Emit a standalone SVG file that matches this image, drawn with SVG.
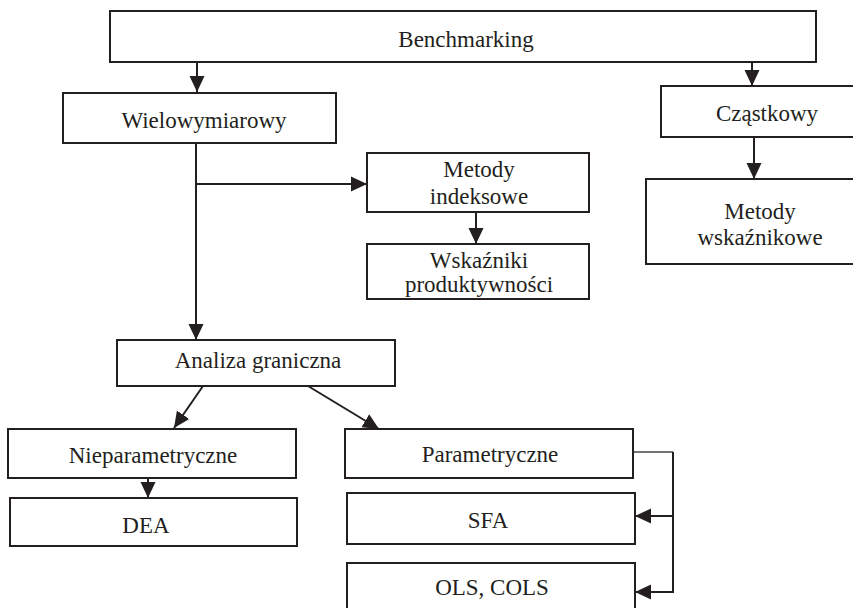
<svg xmlns="http://www.w3.org/2000/svg" width="853" height="608" viewBox="0 0 853 608">
<style>
.box{fill:#fff;stroke:#231f20;stroke-width:2}
.t{font-family:'Liberation Serif','Times New Roman',serif;font-size:23px;fill:#231f20;text-anchor:middle}
.c{fill:none;stroke:#231f20;stroke-width:2}
.thin{fill:none;stroke:#444;stroke-width:1.3}
</style>
<defs>
<marker id="ah" viewBox="0 0 16 16" refX="16" refY="8" markerWidth="16" markerHeight="16" orient="auto" markerUnits="userSpaceOnUse">
<path d="M0,0.5 L16,8 L0,15.5 z" fill="#231f20"/>
</marker>
</defs>
<rect width="853" height="608" fill="#fff"/>
<g id="connectors">
<line class="c" x1="197" y1="62" x2="197" y2="92" marker-end="url(#ah)"/>
<line class="c" x1="752" y1="62" x2="752" y2="86" marker-end="url(#ah)"/>
<line class="c" x1="754" y1="137" x2="754" y2="179" marker-end="url(#ah)"/>
<line class="c" x1="196" y1="143" x2="196" y2="340" marker-end="url(#ah)"/>
<line class="c" x1="196" y1="184" x2="367" y2="184" marker-end="url(#ah)"/>
<line class="c" x1="476" y1="212" x2="476" y2="244" marker-end="url(#ah)"/>
<line class="c" x1="203" y1="386" x2="174" y2="428" marker-end="url(#ah)"/>
<line class="c" x1="308" y1="386" x2="379" y2="429" marker-end="url(#ah)"/>
<line class="c" x1="148" y1="478" x2="148" y2="498" marker-end="url(#ah)"/>
<polyline class="thin" points="633,452 673,452"/>
<polyline class="c" points="673,452 673,592"/>
<line class="c" x1="673" y1="516" x2="635" y2="516" marker-end="url(#ah)"/>
<line class="c" x1="674" y1="592" x2="635" y2="592" marker-end="url(#ah)"/>
</g>
<g id="benchmarking"><rect class="box" x="110" y="11" width="706" height="51"/><text class="t" x="466" y="47">Benchmarking</text></g>
<g id="wielowymiarowy"><rect class="box" x="63" y="93" width="273" height="50"/><text class="t" x="204" y="128">Wielowymiarowy</text></g>
<g id="czastkowy"><rect class="box" x="661" y="86" width="200" height="51"/><text class="t" x="767" y="121">Cząstkowy</text></g>
<g id="metody-indeksowe"><rect class="box" x="367" y="153" width="222" height="59"/><text class="t" x="479" y="177">Metody</text><text class="t" x="479" y="204">indeksowe</text></g>
<g id="wskazniki"><rect class="box" x="367" y="244" width="222" height="55"/><text class="t" x="479" y="268">Wskaźniki</text><text class="t" x="479" y="292">produktywności</text></g>
<g id="metody-wskaznikowe"><rect class="box" x="646" y="179" width="215" height="85"/><text class="t" x="760" y="219">Metody</text><text class="t" x="760" y="245">wskaźnikowe</text></g>
<g id="analiza"><rect class="box" x="117" y="340" width="278" height="46"/><text class="t" x="258" y="368">Analiza graniczna</text></g>
<g id="nieparametryczne"><rect class="box" x="8" y="429" width="288" height="49"/><text class="t" x="153" y="463">Nieparametryczne</text></g>
<g id="dea"><rect class="box" x="10" y="498" width="287" height="48"/><text class="t" x="146" y="533">DEA</text></g>
<g id="parametryczne"><rect class="box" x="345" y="429" width="288" height="49"/><text class="t" x="490" y="462">Parametryczne</text></g>
<g id="sfa"><rect class="box" x="347" y="493" width="288" height="51"/><text class="t" x="488" y="528">SFA</text></g>
<g id="ols"><rect class="box" x="347" y="563" width="288" height="60"/><text class="t" x="492" y="595">OLS, COLS</text></g>
</svg>
